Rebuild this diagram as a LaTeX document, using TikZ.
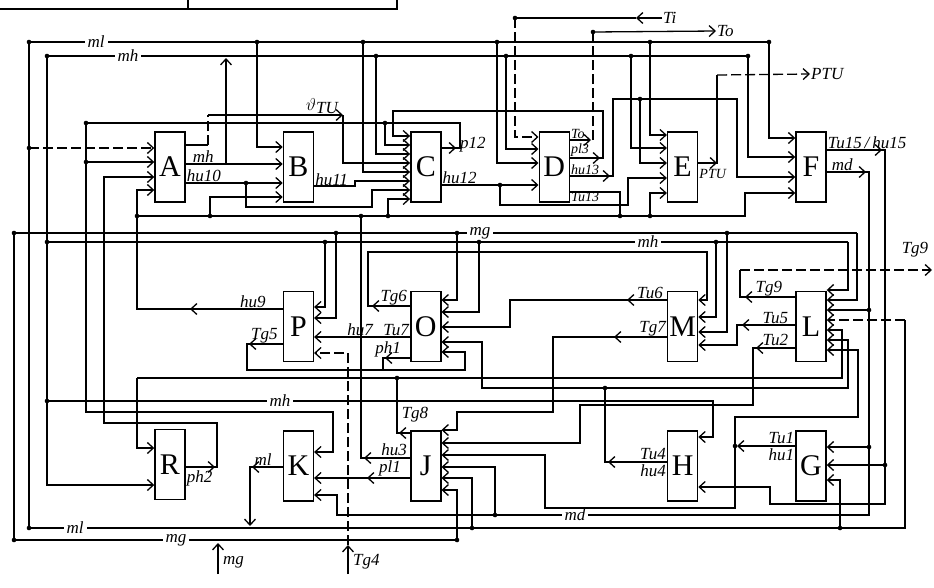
\documentclass[tikz,border=0pt]{standalone}
\usepackage{fontspec}
\setmainfont{Liberation Serif}
\usetikzlibrary{arrows.meta,positioning}

\begin{document}
\begin{tikzpicture}[x=1pt,y=-1pt,line width=1.3pt,
  blk/.style={draw,line width=1.4pt,minimum width=30pt,minimum height=70pt,
              inner sep=0pt,font=\fontsize{30}{30}\selectfont},
  arr/.style={-{Straight Barb[length=6pt,width=11pt]}},
  dsh/.style={dash pattern=on 10pt off 4pt},
  lbl/.style={font=\fontsize{17}{17}\selectfont\itshape,inner sep=0.5pt},
  sml/.style={lbl,font=\fontsize{14}{14}\selectfont\itshape},
  bus/.style={lbl,fill=white,inner xsep=3pt},
]
\useasboundingbox (0,0) rectangle (934,587);

% blocks
\node[blk] (A) at (170,167) {A};
\node[blk,right=97pt of A] (B) {B};
\node[blk,right=96pt of B] (C) {C};
\node[blk,right=97pt of C] (D) {D};
\node[blk,right=97pt of D] (E) {E};
\node[blk,right=97pt of E] (F) {F};
\node[blk,below=88pt of B] (P) {P};
\node[blk,below=88pt of C] (O) {O};
\node[blk,below=88pt of E] (M) {M};
\node[blk,below=88pt of F] (L) {L};
\node[blk,below=226pt of A] (R) {R};
\node[blk,below=68pt of P] (K) {K};
\node[blk,below=68pt of O] (J) {J};
\node[blk,below=68pt of M] (H) {H};
\node[blk,below=68pt of L] (G) {G};

% free ends
\node[lbl,anchor=west] (Ti) at (662,18) {Ti};
\node[lbl,anchor=west] (To) at (716,31) {To};
\node[lbl,anchor=west] (PTU) at (810,74) {PTU};
\node[lbl] (Tg9) at (915,250) {Tg9};

% taps and corners
\foreach \n/\x/\y in {mlL/29/42,mlB/257/42,mlC/363/42,mlD/497/42,mlE/650/42,mlF/769/42,
    mhL/47/56,mhC/376/56,mhD/506/56,mhE/631/56,mhF/748/56,tiD/515/18,toD/593/32,
    pA/86/123,pC/385/123,tvA/86/162,mlA/29/148,hA/246/183,hC/500/185,hE/640/99,
    bL/137/216,bB/210/216,bJ/361/216,bC/388/216,bD/620/216,bE/650/216,
    mgL/14/233,mgP/336/233,mgO/457/233,mgM/727/233,mgR/857/233,
    hL/47/242,hP/325/242,hO/479/242,hM/716/242,hR/848/242,
    gL/137/378,gJ/397/378,gR/842/378,uO/482/388,uH/605/388,uR/848/388,mbL/47/401,
    mlBL/29/528,mlJ/472/528,mlG/840/528,mlR/905/528,mgBL/14/540,mgJ/457/540,
    mdR/869/515,mdL/869/310,mdG/869/447,mdJ/495/515,tuG/885/465,gtu/735/446,
    tg9/932/270,tg4/348/574,mgin/218/574}
  \coordinate (\n) at (\x,\y);

% table edge
\draw (0,9) -- (397,9) -- (397,0);
\draw (188,9) -- (188,0);

% buses
\draw (mlL) -- (mlF);
\draw[arr] (mlF) |- (F.west |- 0,138);
\draw (mhL) -- (mhF);
\draw[arr] (mhF) |- (F.west |- 0,157);
\draw (mlL) -- (mlBL) -- (mlR) -- (905,320);
\draw[dsh,arr] (905,320) -- (L.east |- 0,320);
\draw[arr] (mhL) |- (R.west |- 0,485);
\draw (mgL) -- (mgBL) -- (mgJ);
\draw[arr] (mgJ) |- (J.east |- 0,490);
\draw (mgL) -- (mgR);
\draw[arr] (mgR) |- (L.east |- 0,300);
\draw (hL) -- (hR);
\draw[arr] (hR) |- (L.east |- 0,290);
\draw[arr] (mbL) -- (713,401) |- (H.east |- 0,437);
\draw[arr] (bL) -- (745,216) |- (F.west |- 0,193);

% A
\draw[dsh,arr] (mlA) -- (A.west |- 0,148);
\draw[arr] (tvA) -- (A.west |- 0,162);
\draw[arr] (R.east |- 0,467) -- (215,467);
\draw[arr] (R.east |- 0,467) -| (217,423) -| (104,177) -- (A.west |- 0,177);
\draw[arr] (P.west |- 0,309) -- (190,309);
\draw[arr] (P.west |- 0,309) -| (137,190) -- (A.west |- 0,190);
\draw (A.east |- 0,145) -- (208,145);
\draw[dsh] (208,145) -- (208,115);
\draw[arr] (208,115) -- (343,115);
\draw[arr] (343,115) |- (C.west |- 0,163);
\draw[arr] (A.east |- 0,164) -- (B.west |- 0,164);
\draw[arr] (A.east |- 0,164) -| (226,58);
\draw[arr] (A.east |- 0,183) -- (B.west |- 0,183);
\draw[arr] (hA) |- (372,207) |- (C.west |- 0,190);

% B
\draw[arr] (mlB) |- (B.west |- 0,147);
\draw[arr] (bB) |- (B.west |- 0,197);
\draw[arr] (B.east |- 0,186) -- (355,186) |- (C.west |- 0,181);

% C
\draw[arr] (C.east |- 0,148) -- (456,148);
\draw[arr] (C.east |- 0,148) -| (460,123) -- (pA) -- (86,412) -| (333,452) -- (K.east |- 0,452);
\draw[arr] (pC) |- (C.west |- 0,145);
\draw[arr] (mhC) |- (C.west |- 0,154);
\draw[arr] (mlC) |- (C.west |- 0,172);
\draw[arr] (bC) |- (C.west |- 0,199);
\draw[arr] (C.east |- 0,185) -- (D.west |- 0,185);
\draw[arr] (hC) |- (628,205) |- (E.west |- 0,178);

% D
\draw[arr] (Ti.west) -- (636,18);
\draw (636,18) -- (tiD);
\draw[dsh,arr] (tiD) |- (D.west |- 0,137);
\draw[arr] (mhD) |- (D.west |- 0,149);
\draw[arr] (mlD) |- (D.west |- 0,163);
\draw[arr] (D.east |- 0,140) -- (591,140);
\draw[dsh] (593,140) -- (toD);
\draw[arr] (toD) -- (To.west);
\draw[arr] (D.east |- 0,158) -- (600,158);
\draw[arr] (D.east |- 0,158) -| (603,111) -| (393,136) -- (C.west |- 0,136);
\draw[arr] (D.east |- 0,176) -- (610,176);
\draw[arr] (D.east |- 0,176) -| (613,99) -| (737,177) -- (F.west |- 0,177);
\draw (D.east |- 0,192) -| (bD);

% E
\draw[arr] (mlE) |- (E.west |- 0,135);
\draw[arr] (mhE) |- (E.west |- 0,148);
\draw[arr] (hE) |- (E.west |- 0,163);
\draw[arr] (bE) |- (E.west |- 0,193);
\draw (E.east |- 0,163) -| (717,75);
\draw[arr] (E.east |- 0,163) -- (717,163);
\draw[dsh,arr] (717,75) -- (PTU.west);

% F
\draw[arr] (F.east |- 0,150) -- (882,150);
\draw[arr] (F.east |- 0,150) -| (885,504) -| (770,487) -- (H.east |- 0,487);
\draw[arr] (tuG) -- (G.east |- 0,465);
\draw[arr] (F.east |- 0,172) -- (866,172);
\draw[arr] (F.east |- 0,172) -| (mdR) -| (337,495) -- (K.east |- 0,495);
\draw[arr] (mdL) -- (L.east |- 0,310);
\draw[arr] (mdG) -- (G.east |- 0,447);
\draw[arr] (mdJ) |- (J.east |- 0,467);
\draw[arr] (mlJ) |- (J.east |- 0,478);
\draw[arr] (mlG) |- (G.east |- 0,480);

% P, O
\draw[arr] (hP) |- (P.east |- 0,307);
\draw[arr] (mgP) |- (P.east |- 0,318);
\draw[arr] (O.west |- 0,337) -- (P.east |- 0,337);
\draw[arr] (P.west |- 0,344) -- (249,344);
\draw[arr] (P.west |- 0,344) -| (247,370) -| (465,352) -- (O.east |- 0,352);
\draw[arr] (O.west |- 0,358) -- (385,358);
\draw (O.west |- 0,358) -| (383,370);
\draw[arr] (tg4) -- (348,545);
\draw[dsh,arr] (348,545) |- (P.east |- 0,353);
\draw[arr] (mgin) -- (218,543);
\draw[arr] (mgO) |- (O.east |- 0,300);
\draw[arr] (hO) |- (O.east |- 0,312);
\draw[arr] (O.west |- 0,306) -- (372,306);
\draw[arr] (O.west |- 0,306) -| (368,252) -| (707,300) -- (M.east |- 0,300);
\draw[arr] (uH) -- (uO) |- (O.east |- 0,342);
\draw[arr] (uH) -- (uR) |- (L.east |- 0,340);

% M, L
\draw[arr] (M.west |- 0,300) -- (627,300);
\draw[arr] (M.west |- 0,300) -| (510,327) -- (O.east |- 0,327);
\draw[arr] (hM) |- (M.east |- 0,317);
\draw[arr] (mgM) |- (M.east |- 0,332);
\draw[arr] (M.west |- 0,337) -- (614,337);
\draw[arr] (M.west |- 0,337) -| (553,412) -| (457,430) -- (J.east |- 0,430);
\draw[arr] (L.west |- 0,297) -- (745,297);
\draw (L.west |- 0,297) -| (740,270);
\draw[dsh,arr] (740,270) -- (tg9);
\draw[arr] (L.west |- 0,325) -- (742,325);
\draw[arr] (L.west |- 0,325) -| (737,345) -- (M.east |- 0,345);
\draw[arr] (L.west |- 0,348) -- (756,348);
\draw[arr] (L.west |- 0,348) -| (753,405) -| (580,443) -- (J.east |- 0,443);

% J, K, H, G
\draw[arr] (J.west |- 0,433) -- (399,433);
\draw (J.west |- 0,433) -| (gJ);
\draw[arr] (gL) -- (gR) |- (L.east |- 0,330);
\draw[arr] (gL) |- (R.west |- 0,448);
\draw[arr] (J.west |- 0,458) -- (364,458);
\draw (J.west |- 0,458) -| (bJ);
\draw[arr] (J.west |- 0,478) -- (367,478);
\draw[arr] (J.west |- 0,478) -- (K.east |- 0,478);
\draw[arr] (K.west |- 0,467) -- (252,467);
\draw[arr] (K.west |- 0,467) -| (250,526);
\draw[arr] (H.west |- 0,462) -- (608,462);
\draw (H.west |- 0,462) -| (uH);
\draw[arr] (G.west |- 0,446) -- (737,446);
\draw[arr] (gtu) |- (858,417) |- (L.east |- 0,350);
\draw[arr] (gtu) |- (545,508) |- (J.east |- 0,455);

% junction dots
\foreach \c in {mlL,mlB,mlC,mlD,mlE,mlF,mhL,mhC,mhD,mhE,mhF,tiD,toD,pA,pC,tvA,mlA,
    hA,hC,hE,bL,bB,bJ,bC,bD,bE,mgL,mgP,mgO,mgM,hL,hP,hO,hM,gJ,uH,mbL,
    mlBL,mlJ,mlG,mgBL,mgJ,mdL,mdG,mdJ,tuG,gtu}
  \fill (\c) circle (2.3pt);

% bus names
\node[bus] at (96,42) {ml};
\node[bus] at (128,56) {mh};
\node[bus] at (480,233) {mg};
\node[bus] at (648,242) {mh};
\node[bus] at (280,401) {mh};
\node[bus] at (75,528) {ml};
\node[bus] at (176,540) {mg};
\node[bus] at (575,515) {md};
\node[lbl,anchor=west] at (222,562) {mg};
\node[lbl,anchor=west] at (352,562) {Tg4};
\node[lbl] at (322,106) {$\vartheta$\raisebox{-3pt}{TU}};

% signal names
\node[lbl,anchor=south west,xshift=6pt] at (A.east |- 0,164) {mh};
\node[lbl,anchor=south west] at (A.east |- 0,183) {hu10};
\node[lbl,anchor=south west] at (B.east |- 0,187) {hu11};
\node[lbl,anchor=west] at (459,145) {p12};
\node[lbl,anchor=south west] at (C.east |- 0,185) {hu12};
\node[sml,anchor=south west] at (D.east |- 0,140) {To};
\node[sml,anchor=south west] at (D.east |- 0,158) {pl3};
\node[sml,anchor=south west] at (D.east |- 0,176) {hu13};
\node[sml,anchor=north west] at (D.east |- 0,191) {Tu13};
\node[sml,anchor=north west] at (E.east |- 0,168) {PTU};
\node[lbl,anchor=south west] at (F.east |- 0,150) {Tu15\,/\,hu15};
\node[lbl,anchor=south west,xshift=4pt] at (F.east |- 0,172) {md};
\node[lbl,anchor=south east,xshift=-16pt] at (P.west |- 0,309) {hu9};
\node[lbl,anchor=south east,xshift=-4pt] at (P.west |- 0,344) {Tg5};
\node[lbl,anchor=south east,xshift=-2pt] at (O.west |- 0,306) {Tg6};
\node[lbl,anchor=south east] at (O.west |- 0,337) {Tu7};
\node[lbl,anchor=south east] at (374,337) {hu7};
\node[lbl,anchor=south east,xshift=-8pt] at (O.west |- 0,358) {ph1};
\node[lbl,anchor=south east,xshift=-3pt] at (M.west |- 0,300) {Tu6};
\node[lbl,anchor=south east] at (M.west |- 0,337) {Tg7};
\node[lbl,anchor=south east,xshift=-12pt] at (L.west |- 0,297) {Tg9};
\node[lbl,anchor=south east,xshift=-6pt] at (L.west |- 0,325) {Tu5};
\node[lbl,anchor=south east,xshift=-6pt] at (L.west |- 0,347) {Tu2};
\node[lbl,anchor=north west] at (R.east |- 0,470) {ph2};
\node[lbl,anchor=south east,xshift=-10pt] at (K.west |- 0,467) {ml};
\node[lbl] at (415,415) {Tg8};
\node[lbl,anchor=south east,xshift=-2pt] at (J.west |- 0,457) {hu3};
\node[lbl,anchor=south east,xshift=-8pt] at (J.west |- 0,477) {pl1};
\node[lbl,anchor=south east] at (H.west |- 0,461) {Tu4};
\node[lbl,anchor=north east] at (H.west |- 0,464) {hu4};
\node[lbl,anchor=south east] at (G.west |- 0,445) {Tu1};
\node[lbl,anchor=north east] at (G.west |- 0,448) {hu1};
\end{tikzpicture}
\end{document}
